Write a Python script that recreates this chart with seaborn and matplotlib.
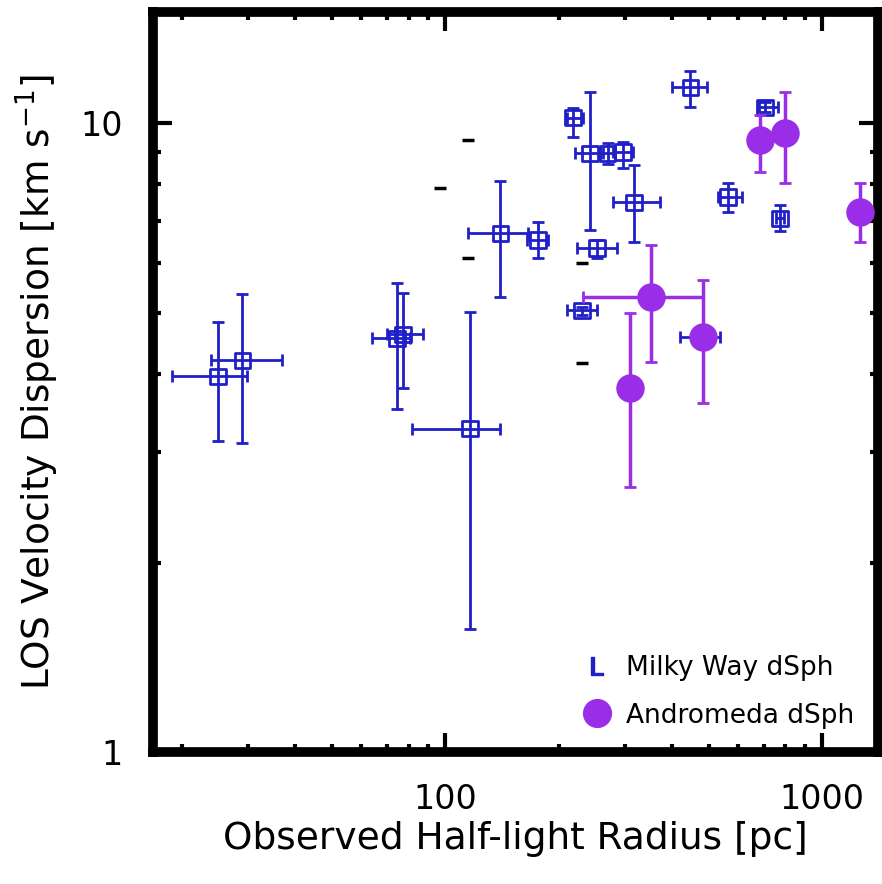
import numpy as np
import pandas as pd
import seaborn as sns
import matplotlib
matplotlib.use("Agg")
import matplotlib.pyplot as plt
from matplotlib.lines import Line2D
from matplotlib.ticker import FixedLocator, NullFormatter

# Milky Way dSph: centre, then lower/upper ends of the error bars
mw_r = [25.0, 29.0, 74.6, 77.3, 116.5, 140, 176.5, 218.6, 242.5, 270, 296.6,
        317, 253, 447, 706, 563, 774, 230.9, 483]
mw_sig = [3.96, 4.20, 4.55, 4.62, 3.27, 6.68, 6.52, 10.2, 8.96, 8.96, 9.0,
          7.48, 6.33, 11.4, 10.6, 7.63, 7.06, 5.04, 4.57]
mw_r_lo = [18.9, 23.9, 63.9, 70.2, 81.8, 115, 165, 211, 221, 258, 279,
           279, 224, 400, 680, 530, 755, 210.6, 420]
mw_r_hi = [29.8, 37.0, 80.8, 87.5, 140, 166, 187.6, 232, 262, 283, 315,
           372, 286, 495, 764, 614, 795, 253, 535]
mw_sig_lo = [3.13, 3.10, 3.51, 3.79, 1.57, 5.29, 6.10, 9.5, 6.76, 8.6, 8.48,
             6.47, 6.10, 10.6, 10.4, 7.22, 6.75, 4.95, 4.57]
mw_sig_hi = [4.83, 5.35, 5.57, 5.37, 5.01, 8.09, 6.96, 10.56, 11.2, 9.3, 9.33,
             8.58, 6.52, 12.1, 10.8, 8.03, 7.4, 5.1, 4.57]

# Andromeda dSph
m31_r = [309.5, 351.9, 483, 685, 797, 1262]
m31_sig = [3.80, 5.29, 4.57, 9.40, 9.64, 7.22]
m31_r_lo = [309.5, 232, 483, 685, 797, 1262]
m31_r_hi = [309.5, 483, 483, 685, 797, 1262]
m31_sig_lo = [2.64, 4.17, 3.59, 8.36, 8.03, 6.47]
m31_sig_hi = [4.99, 6.40, 5.63, 10.3, 11.2, 8.03]

# stray black dashes
dash_r = [115, 115, 230.9, 230.9, 97]
dash_sig = [9.4, 6.1, 5.99, 4.15, 7.88]

blue = "#2020c8"
purple = "#9a2ee8"

sns.set_theme(style="ticks")
plt.rcParams["font.family"] = ["DejaVu Sans"]
plt.rcParams["text.color"] = "black"
plt.rcParams["axes.labelcolor"] = "black"
plt.rcParams["xtick.color"] = "black"
plt.rcParams["ytick.color"] = "black"

mw = pd.DataFrame({"r": mw_r, "sig": mw_sig})
m31 = pd.DataFrame({"r": m31_r, "sig": m31_sig})

fig = plt.figure(figsize=(8.82, 8.84), dpi=100)
ax = fig.add_axes([0.1735, 0.149, 0.822, 0.837])

ax.errorbar(mw["r"], mw["sig"],
            xerr=[mw["r"] - np.array(mw_r_lo), np.array(mw_r_hi) - mw["r"]],
            yerr=[mw["sig"] - np.array(mw_sig_lo), np.array(mw_sig_hi) - mw["sig"]],
            fmt="none", ecolor=blue, elinewidth=2, capsize=4, capthick=2, zorder=2)
sns.scatterplot(data=mw, x="r", y="sig", marker="s", s=120, facecolor="none",
                edgecolor=blue, linewidth=2, ax=ax, zorder=3)

ax.errorbar(m31["r"], m31["sig"],
            xerr=[m31["r"] - np.array(m31_r_lo), np.array(m31_r_hi) - m31["r"]],
            yerr=[m31["sig"] - np.array(m31_sig_lo), np.array(m31_sig_hi) - m31["sig"]],
            fmt="none", ecolor=purple, elinewidth=2.5, capsize=4, capthick=2, zorder=4)
sns.scatterplot(data=m31, x="r", y="sig", marker="o", s=420, color=purple,
                edgecolor=purple, linewidth=0, ax=ax, zorder=5)

ax.scatter(dash_r, dash_sig, marker="_", s=70, color="black", linewidths=2.5, zorder=1)

ax.set_xscale("log")
ax.set_yscale("log")
ax.set_xlim(16.8, 1408)
ax.set_ylim(1.0, 15.0)

ax.xaxis.set_major_locator(FixedLocator([100, 1000]))
ax.yaxis.set_major_locator(FixedLocator([1, 10]))
ax.set_xticklabels(["100", "1000"])
ax.set_yticklabels(["1", "10"])
ax.xaxis.set_minor_formatter(NullFormatter())
ax.yaxis.set_minor_formatter(NullFormatter())

for side in ax.spines.values():
    side.set_linewidth(7)
    side.set_color("black")
ax.tick_params(which="both", direction="in", top=True, right=True, color="black",
               labelcolor="black")
ax.tick_params(which="major", length=14, width=3, labelsize=24, pad=22)
ax.tick_params(which="minor", length=6, width=3)

ax.set_xlabel("Observed Half-light Radius [pc]", fontsize=27, labelpad=4, color="black")
ax.set_ylabel("LOS Velocity Dispersion [km s$^{-1}$]", fontsize=27, labelpad=14,
              color="black")

handles = [
    Line2D([], [], linestyle="none", marker="$\\mathrm{L}$", markersize=13, color=blue),
    Line2D([], [], linestyle="none", marker="o", markersize=20, color=purple),
]
ax.legend(handles, ["Milky Way dSph", "Andromeda dSph"], loc="lower right",
          frameon=False, fontsize=19, handletextpad=0.5, labelspacing=0.8,
          borderaxespad=0.5, handlelength=1.2, labelcolor="black")

fig.savefig("out.png", dpi=100)
